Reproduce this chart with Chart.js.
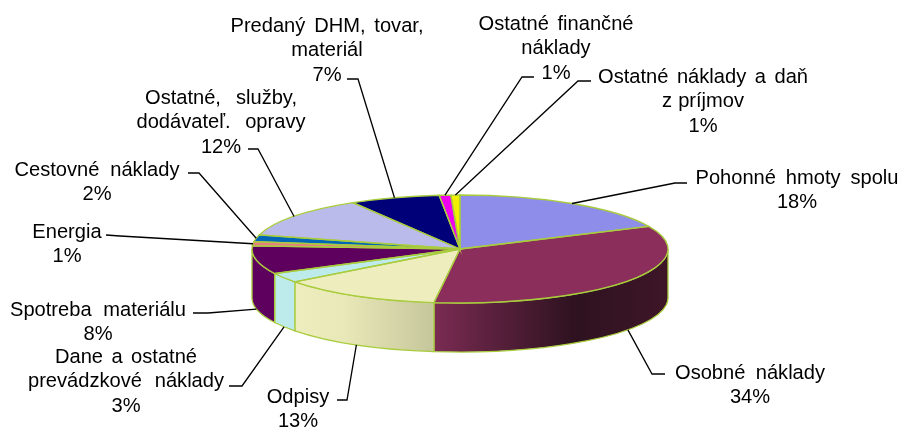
<!DOCTYPE html>
<html>
<head>
<meta charset="utf-8">
<style>
  html, body { margin: 0; background: #fff; }
  canvas { display: block; filter: blur(0.3px); }
</style>
<script src="https://cdn.jsdelivr.net/npm/chart.js@4/dist/chart.umd.min.js"></script>
</head>
<body>
<canvas id="chart" width="902" height="429"></canvas>
<script>
// category names, one entry per printed line
const categories = [
  ["Pohonné hmoty spolu"],
  ["Osobné náklady"],
  ["Odpisy"],
  ["Dane a ostatné", "prevádzkové náklady"],
  ["Spotreba materiálu"],
  ["Energia"],
  ["Cestovné náklady"],
  ["Ostatné, služby,", "dodávateľ. opravy"],
  ["Predaný DHM, tovar,", "materiál"],
  ["Ostatné finančné", "náklady"],
  ["Ostatné náklady a daň", "z príjmov"]
];
// the printed label is the rounded value
const shares = [18.1, 33.9, 12.6, 2.9, 8.4, 1.3, 2.0, 12.2, 7.0, 0.9, 0.7];

const colors = ["#8E8EEA", "#8B2E5C", "#EDEDBD", "#BDEBEB", "#5E005E", "#E88080",
  "#0066B8", "#BBBBEB", "#000078", "#F000F0", "#F0F000"];
const edge = "#A9CC3E";

// horizontal shading on the two big front walls
const wallStops = {
  1: [[0, "#7A2B52"], [0.6, "#2E1220"], [1, "#3E1628"]],
  2: [[0, "#EDEDBD"], [0.35, "#E8E8B8"], [1, "#C6C69C"]]
};

// layout of the flattened pie
const pieY = 249, squash = 54 / 208, depth = 49;

// label layout: centre x, first baseline, printed width of each line with a space in it
const labelX = [797, 750, 298, 126, 98, 67, 97, 221, 327, 556, 703];
const labelY = [184, 379, 403, 363, 316, 238, 176, 104, 32, 30, 83];
const lineWidths = [[203], [150], [], [142, 196], [176], [], [165], [152, 169], [193], [155], [210, 82]];
const lineStep = 24.3;
const fontCss = "20.1px 'Liberation Sans', Arial, sans-serif";

// leader lines: elbow and end next to the text
const leaderElbow = [[675, 183], [652, 374], [347, 400], [242, 386], [208, 313], [120, 236],
  [199, 173], [258, 149], [358, 79], [522, 77], [578, 81]];
const leaderEnd = [[687, 183], [665, 374], [337, 400], [229, 386], [193, 313], [106, 235],
  [188, 173], [248, 149], [347, 79], [534, 77], [591, 81]];

function flatten(ctx, arc) {
  ctx.translate(arc.x, pieY);
  ctx.scale(1, squash);
  ctx.translate(-arc.x, -arc.y);
}

const pie3d = {
  id: "pie3d",
  beforeDatasetsDraw(chart) {
    const ctx = chart.ctx;
    const arcs = chart.getDatasetMeta(0).data;
    // walls first
    arcs.forEach((arc, i) => {
      const a0 = Math.max(arc.startAngle, 0), a1 = Math.min(arc.endAngle, Math.PI);
      if (a1 <= a0) return;
      const rx = arc.outerRadius, ry = rx * squash;
      let fill = colors[i];
      if (wallStops[i]) {
        const xs = [arc.x + rx * Math.cos(a0), arc.x + rx * Math.cos(a1)];
        if (a0 === 0) xs[0] = arc.x + rx;
        fill = ctx.createLinearGradient(xs[1], 0, xs[0], 0);
        wallStops[i].forEach(s => fill.addColorStop(s[0], s[1]));
      }
      ctx.beginPath();
      ctx.ellipse(arc.x, pieY, rx, ry, 0, a0, a1);
      ctx.ellipse(arc.x, pieY + depth, rx, ry, 0, a1, a0, true);
      ctx.closePath();
      ctx.fillStyle = fill;
      ctx.fill();
      ctx.strokeStyle = edge;
      ctx.lineWidth = 1.3;
      ctx.stroke();
    });
    ctx.save();
    flatten(ctx, arcs[0]);
  },
  afterDatasetsDraw(chart) {
    const ctx = chart.ctx;
    ctx.restore();
    const arcs = chart.getDatasetMeta(0).data;

    // slice outlines, stroked unflattened so the line keeps its width
    arcs.forEach(arc => {
      ctx.save();
      flatten(ctx, arc);
      ctx.beginPath();
      ctx.moveTo(arc.x, arc.y);
      ctx.arc(arc.x, arc.y, arc.outerRadius, arc.startAngle, arc.endAngle);
      ctx.closePath();
      ctx.restore();
      ctx.strokeStyle = edge;
      ctx.lineWidth = 1.3;
      ctx.stroke();
    });

    // leaders and labels
    arcs.forEach((arc, i) => {
      const mid = (arc.startAngle + arc.endAngle) / 2;
      const rx = arc.outerRadius, ry = rx * squash;
      const px = arc.x + rx * Math.cos(mid);
      let py = pieY + ry * Math.sin(mid);
      if (Math.sin(mid) > 0.15) py += depth;
      ctx.beginPath();
      ctx.moveTo(px, py);
      ctx.lineTo(leaderElbow[i][0], leaderElbow[i][1]);
      ctx.lineTo(leaderEnd[i][0], leaderEnd[i][1]);
      ctx.strokeStyle = "#000";
      ctx.lineWidth = 1.3;
      ctx.stroke();

      ctx.font = fontCss;
      ctx.fillStyle = "#000";
      ctx.textAlign = "center";
      ctx.textBaseline = "alphabetic";
      const lines = categories[i].concat(Math.round(shares[i]) + "%");
      lines.forEach((line, n) => {
        const gaps = line.split(" ").length - 1;
        ctx.wordSpacing = "0px";
        if (gaps && lineWidths[i][n]) {
          ctx.wordSpacing = (lineWidths[i][n] - ctx.measureText(line).width) / gaps + "px";
        }
        ctx.fillText(line, labelX[i], labelY[i] + n * lineStep);
      });
      ctx.wordSpacing = "0px";
    });
  }
};

new Chart(document.getElementById("chart").getContext("2d"), {
  type: "pie",
  data: {
    labels: categories,
    datasets: [{
      data: shares,
      backgroundColor: colors,
      borderWidth: 0,
      hoverBorderWidth: 0
    }]
  },
  options: {
    responsive: false,
    animation: false,
    events: [],
    layout: { padding: { left: 252, right: 234, top: 6, bottom: 7 } },
    plugins: { legend: { display: false }, tooltip: { enabled: false } }
  },
  plugins: [pie3d]
});
</script>
</body>
</html>
